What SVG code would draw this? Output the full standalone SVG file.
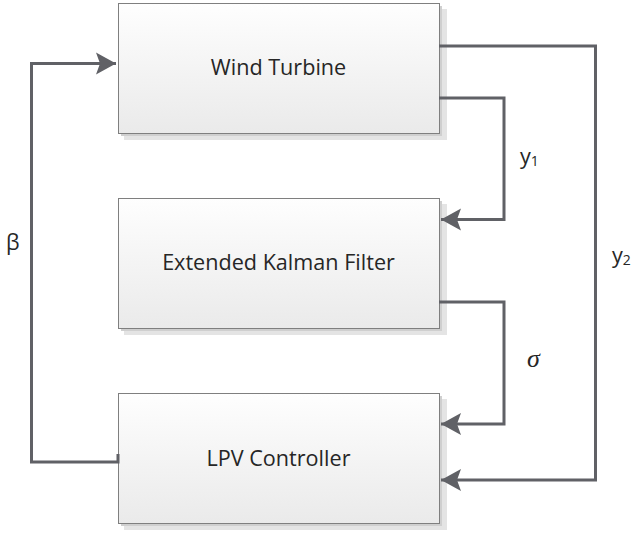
<svg xmlns="http://www.w3.org/2000/svg" width="632" height="535" viewBox="0 0 632 535">
  <defs>
    <linearGradient id="boxfill" x1="0" y1="0" x2="0" y2="1">
      <stop offset="0" stop-color="#fefefe"/>
      <stop offset="1" stop-color="#eaeaea"/>
    </linearGradient>
    <marker id="arrow" markerUnits="userSpaceOnUse" markerWidth="24" markerHeight="26" viewBox="-22 -12 24 24" refX="0" refY="0" orient="auto">
      <path d="M0,0 L-20,-11 L-16,0 L-20,11 Z" fill="#606166"/>
    </marker>
    <style>
      .shadow1 { fill: #e4e4e4; }
      .shadow2 { fill: #cfcfcf; }
      .box { fill: url(#boxfill); stroke: #7f7f7f; stroke-width: 1; }
      .label { font-family: "Open Sans", "Liberation Sans", sans-serif; font-size: 21.6px; fill: #262626; text-anchor: middle; }
      .sym { font-family: "Open Sans", "Liberation Sans", sans-serif; font-size: 21.6px; fill: #262626; }
      .sub { font-size: 14px; }
      .sigma { font-family: "Liberation Serif", "DejaVu Serif", serif; font-style: italic; font-size: 26px; fill: #262626; }
      .wire { fill: none; stroke: #606166; stroke-width: 3; stroke-linejoin: miter; }
    </style>
  </defs>

  <g id="wind-turbine">
    <rect class="shadow1" x="124" y="9" width="323" height="131"/>
    <rect class="shadow2" x="121" y="6" width="321" height="130"/>
    <rect class="box" x="118.5" y="3.5" width="321" height="130"/>
    <text class="label" x="278.5" y="75">Wind Turbine</text>
  </g>

  <g id="ekf">
    <rect class="shadow1" x="124" y="204" width="323" height="131"/>
    <rect class="shadow2" x="121" y="201" width="321" height="130"/>
    <rect class="box" x="118.5" y="198.5" width="321" height="130"/>
    <text class="label" x="278.5" y="270">Extended Kalman Filter</text>
  </g>

  <g id="lpv-controller">
    <rect class="shadow1" x="124" y="399" width="323" height="131"/>
    <rect class="shadow2" x="121" y="396" width="321" height="130"/>
    <rect class="box" x="118.5" y="393.5" width="321" height="130"/>
    <text class="label" x="278.5" y="466">LPV Controller</text>
  </g>

  <g id="connectors">
    <path class="wire" d="M118,454 V462 H31.5 V63.5 H116" marker-end="url(#arrow)"/>
    <path class="wire" d="M439,46 H595.5 V480 H441" marker-end="url(#arrow)"/>
    <path class="wire" d="M439,98 H504 V219.5 H441" marker-end="url(#arrow)"/>
    <path class="wire" d="M439,302 H504 V424 H441" marker-end="url(#arrow)"/>
  </g>

  <g id="labels">
    <text class="sym" x="6" y="250">β</text>
    <text class="sym" x="520" y="164">y<tspan class="sub" dy="2">1</tspan></text>
    <text class="sym" x="612" y="263">y<tspan class="sub" dy="2">2</tspan></text>
    <text class="sigma" x="527" y="367">σ</text>
  </g>
</svg>
